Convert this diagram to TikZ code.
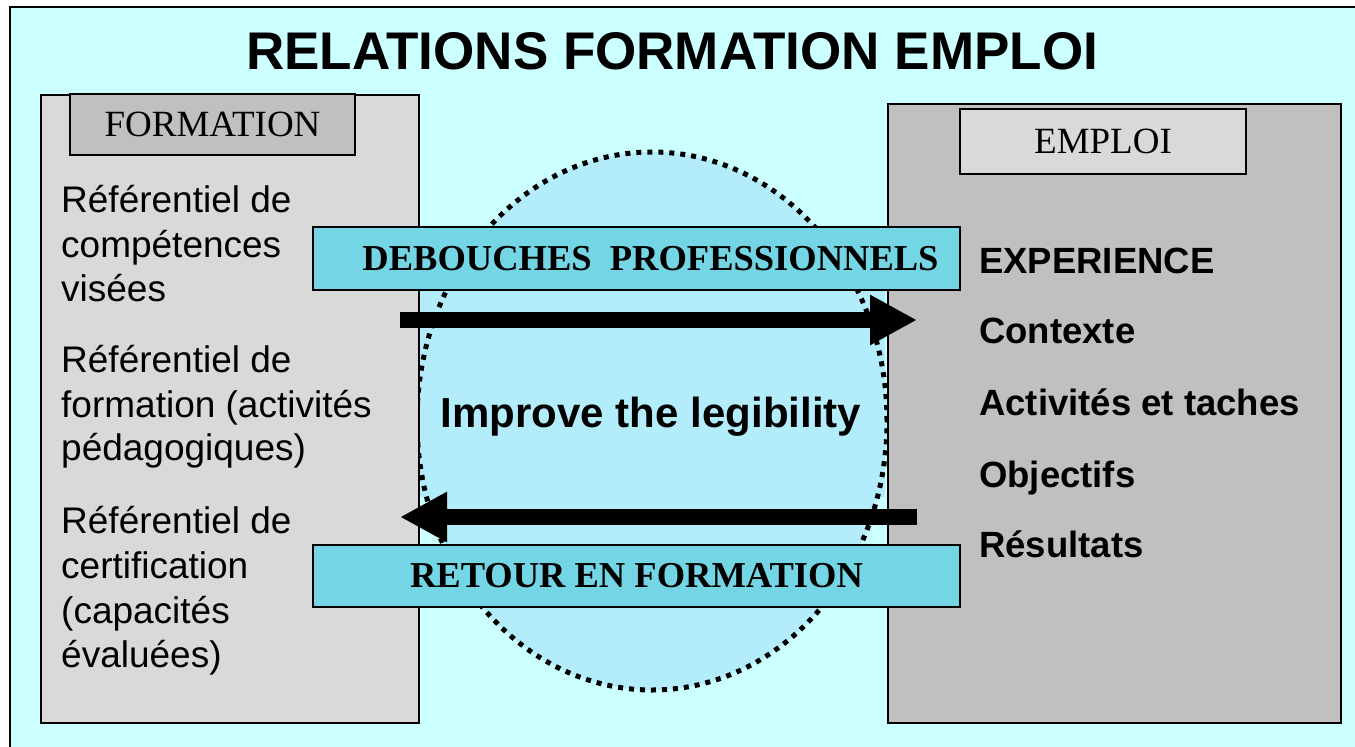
\documentclass[tikz,border=0pt]{standalone}
\usepackage{fontspec}
\setmainfont{Liberation Sans}
\newfontfamily\timesfont{Liberation Serif}
\usetikzlibrary{arrows.meta,shapes.geometric}
\definecolor{bgcyan}{RGB}{204,255,255}
\definecolor{lightgrey}{RGB}{217,217,217}
\definecolor{midgrey}{RGB}{192,192,192}
\definecolor{bannerblue}{RGB}{116,214,229}
\definecolor{ovalblue}{RGB}{179,236,250}
\tikzset{
	bigbox/.style={draw, line width=1.5pt, anchor=north west, inner sep=0pt},
	tagbox/.style={draw, line width=1.5pt, inner sep=0pt, font=\timesfont\fontsize{37}{37}\selectfont},
	banner/.style={draw, line width=1.5pt, fill=bannerblue, inner sep=0pt, minimum width=647pt, minimum height=63pt, font=\timesfont\bfseries\fontsize{36.5}{36.5}\selectfont},
	lefttext/.style={anchor=base west, inner sep=0pt, font=\fontsize{37}{45}\selectfont},
	righttext/.style={anchor=base west, inner sep=0pt, font=\bfseries\fontsize{36.5}{45}\selectfont},
	bigarrow/.style={line width=16pt, -{Triangle[length=47pt,width=47pt]}}
}
\begin{document}
\begin{tikzpicture}[x=1pt,y=-1pt]
			\useasboundingbox (0,0) rectangle (1355,747);
			\draw[fill=bgcyan, line width=2pt] (10,7) rectangle (1380,770);
			% oval behind the middle
			\fill[ovalblue] (652,421) ellipse [x radius=235, y radius=269];
			\fill[ovalblue] (418,290) rectangle (885,497);
			\node[ellipse, draw, line width=5pt, dash pattern=on 5pt off 6pt, inner sep=0pt, minimum width=470pt, minimum height=538pt] (oval) at (652,421) {};
			% the two sides
			\node[bigbox, fill=lightgrey, minimum width=378pt, minimum height=628pt] (form) at (40,94) {};
			\node[bigbox, fill=midgrey, minimum width=453pt, minimum height=619pt] (empl) at (887,103) {};
			\node[tagbox, fill=midgrey, minimum width=285pt, minimum height=61pt] (formtag) at (212.5,124.5) {FORMATION};
			\node[tagbox, fill=lightgrey, minimum width=286pt, minimum height=65pt] (empltag) at (1103,141.5) {EMPLOI};
			% banners and arrows
			\node[banner] (deb) at (636.5,258.5) {\hspace*{28pt}DEBOUCHES~~PROFESSIONNELS};
			\node[banner, minimum height=62pt] (ret) at (636.5,576) {RETOUR EN FORMATION};
			\coordinate (ftail) at (400,320);
			\coordinate (fhead) at (917,320);
			\coordinate (rtail) at (917,517);
			\coordinate (rhead) at (400,517);
			\draw[bigarrow] (ftail) -- (fhead);
			\draw[bigarrow] (rtail) -- (rhead);
			% texts
			\foreach \yy/\txt [count=\i] in {212/Référentiel de, 257/compétences, 301/visées, 372/Référentiel de, 417/formation (activités, 460/pédagogiques), 533/Référentiel de, 578/certification, 623/(capacités, 667/évaluées)}
				\node[lefttext] (ref\i) at (61,\yy) {\txt};
			\foreach \yy/\txt [count=\i] in {273/EXPERIENCE, 343/Contexte, 415/Activités et taches, 487/Objectifs, 557/Résultats}
				\node[righttext] (exp\i) at (979,\yy) {\txt};
			\node[anchor=base, inner sep=0pt, font=\bfseries\fontsize{42}{42}\selectfont] (legib) at (651,427) {Improve the legibility};
			\node[anchor=base, inner sep=0pt, font=\bfseries\fontsize{53}{53}\selectfont] (title) at (672,69) {RELATIONS FORMATION EMPLOI};
		\end{tikzpicture}
\end{document}
